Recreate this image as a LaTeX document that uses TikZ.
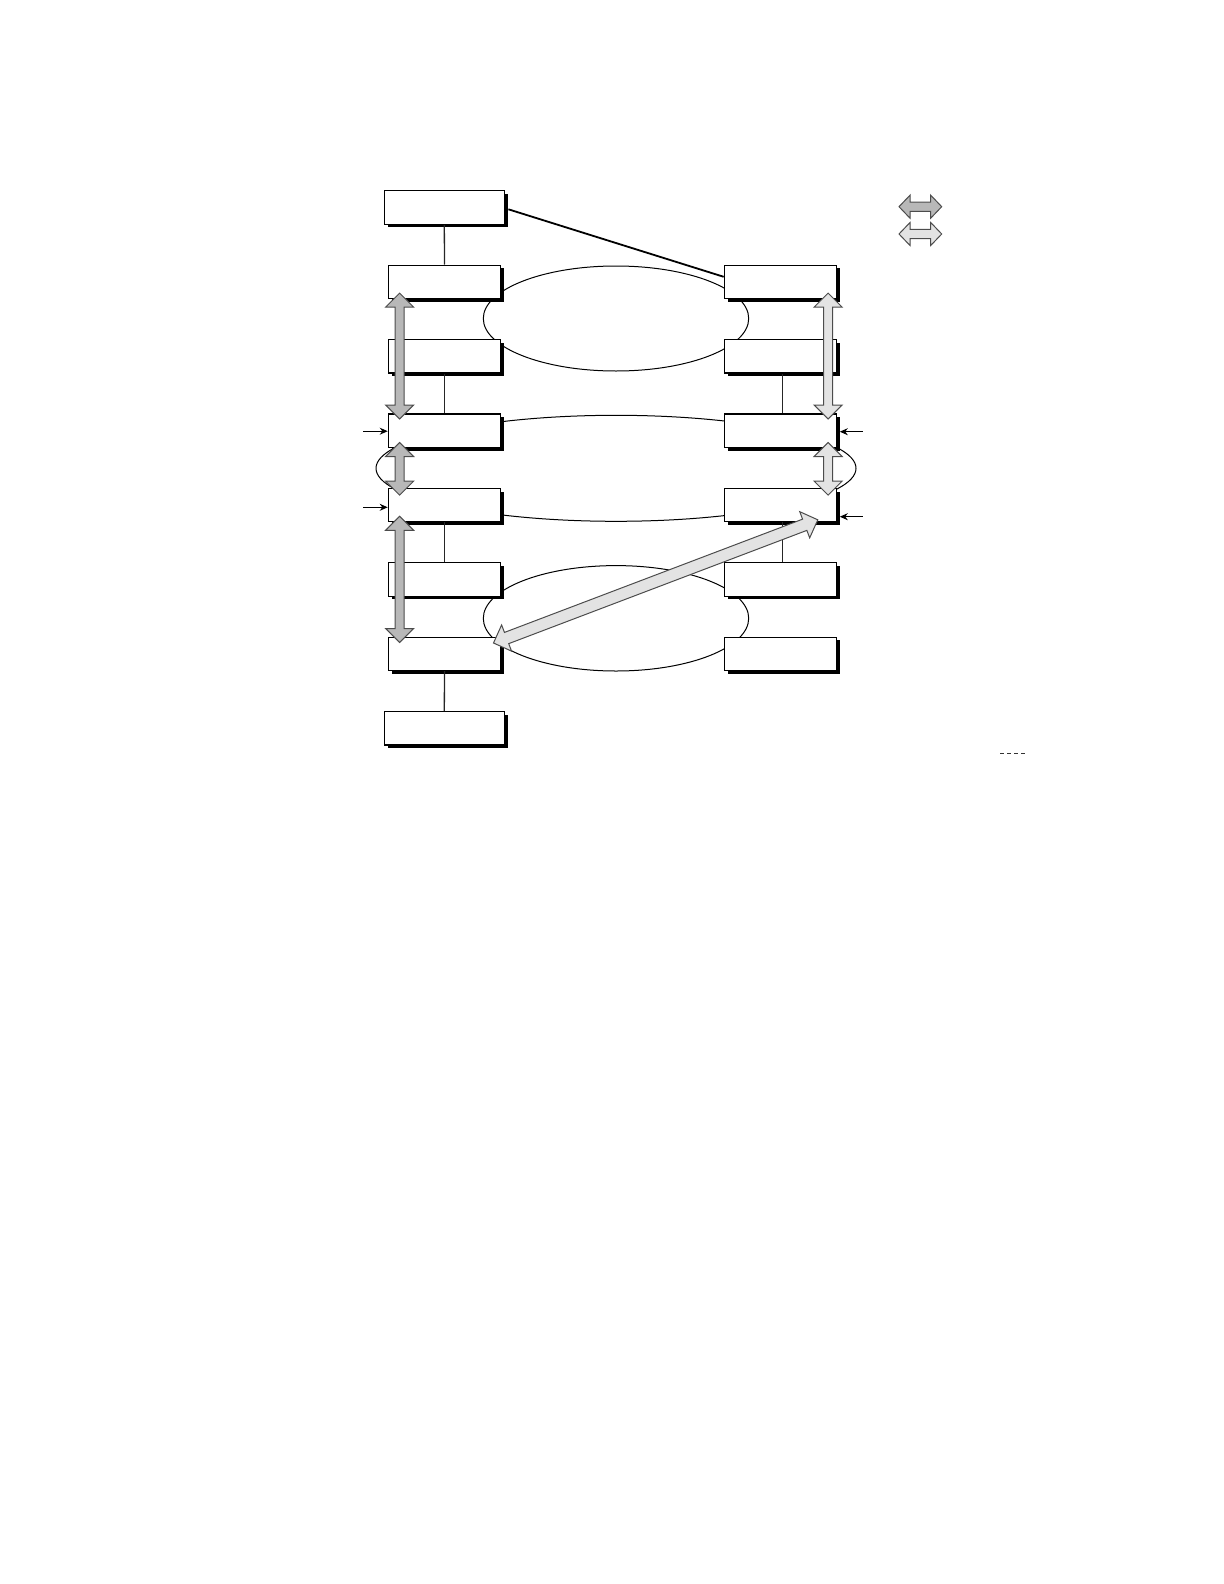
\documentclass[tikz,border=0pt]{standalone}
\usetikzlibrary{calc,shadows,arrows.meta}
\definecolor{darkfill}{gray}{0.72}
\definecolor{lightfill}{gray}{0.89}
\definecolor{arrline}{gray}{0.3}
\tikzset{
  box/.style={draw=black, line width=0.6pt, fill=white, minimum width=56.2pt,
    minimum height=16.7pt, inner sep=0pt,
    drop shadow={shadow xshift=1.6pt, shadow yshift=-1.6pt, fill=black, opacity=1}},
  widebox/.style={box, minimum width=60pt},
  link/.style={draw=black!85, line width=0.65pt},
  slant/.style={draw=black, line width=0.9pt},
  ring/.style={draw=black, line width=0.5pt},
  fatarrow/.style={draw=arrline, line width=0.5pt, line join=miter},
  feed/.style={draw=black, line width=0.5pt, -{Stealth[length=4pt,width=3.5pt]}},
  dashmark/.style={draw=black!80, line width=0.45pt, dash pattern=on 2.2pt off 1.3pt},
}
\newcommand\fahl{7pt}
\newcommand\fahw{7pt}
\newcommand\fasw{2.25pt}
\newcommand\fatarr[3]{%
  \coordinate (fa1) at #2;
  \coordinate (fa2) at #3;
  \coordinate (fh1) at ($(fa1)!\fahl!(fa2)$);
  \coordinate (fh2) at ($(fa2)!\fahl!(fa1)$);
  \draw[fatarrow, fill=#1] (fa1)
    -- ($(fh1)!\fahw!90:(fa2)$) -- ($(fh1)!\fasw!90:(fa2)$)
    -- ($(fh2)!\fasw!-90:(fa1)$) -- ($(fh2)!\fahw!-90:(fa1)$)
    -- (fa2)
    -- ($(fh2)!\fahw!90:(fa1)$) -- ($(fh2)!\fasw!90:(fa1)$)
    -- ($(fh1)!\fasw!-90:(fa2)$) -- ($(fh1)!\fahw!-90:(fa2)$)
    -- cycle;}
\begin{document}
\begin{tikzpicture}[x=0.5pt,y=-0.5pt]
\useasboundingbox (0,0) rectangle (1224,1584);

% rings behind the boxes
\draw[ring] (616,318.5) ellipse [x radius=66.35pt, y radius=26.25pt];
\draw[ring] (616,468.3) ellipse [x radius=120pt, y radius=26.5pt];
\draw[ring] (616,618.3) ellipse [x radius=66.35pt, y radius=26.35pt];

% boxes
\node[widebox] (B0) at (444.3,207.5) {};
\node[box] (L1) at (444.5,281.8) {};
\node[box] (L2) at (444.5,356.2) {};
\node[box] (L3) at (444.5,430.6) {};
\node[box] (L4) at (444.5,505.0) {};
\node[box] (L5) at (444.5,579.4) {};
\node[box] (L6) at (444.5,653.8) {};
\node[widebox] (B7) at (444.3,728.3) {};
\node[box] (R1) at (780.5,281.8) {};
\node[box] (R2) at (780.5,356.2) {};
\node[box] (R3) at (780.5,430.6) {};
\node[box] (R4) at (780.5,505.0) {};
\node[box] (R5) at (780.5,579.4) {};
\node[box] (R6) at (780.5,653.8) {};

% links
\draw[slant] ($(B0.east)+(3.5,1.8)$) -- ($(R1.west)+(0,-5)$);
\draw[link] (B0.south) -- (L1.north);
\draw[link] (L2.south) -- (L3.north);
\draw[link] (L4.south) -- (L5.north);
\draw[link] (L6.south) -- (B7.north);
\draw[link] ([xshift=1.1pt]R2.south) -- ([xshift=1.1pt]R3.north);
\draw[link] ([xshift=1.1pt]R4.south) -- ([xshift=1.1pt]R5.north);

% feed arrows
\coordinate (f1) at (363,431.2);
\coordinate (f2) at (363,507.3);
\coordinate (f3) at (862.7,431.7);
\coordinate (f4) at (862.7,516.7);
\draw[feed] (f1) -- (f1 -| L3.west);
\draw[feed] (f2) -- (f2 -| L4.west);
\draw[feed] (f3) -- ($(f3 -| R3.east)+(2.5,0)$);
\draw[feed] (f4) -- ($(f4 -| R4.east)+(2.5,0)$);

% fat double arrows
\fatarr{darkfill}{($(L1.south west)+(11.9,-6)$)}{($(L3.north west)+(11.9,5.7)$)}
\fatarr{darkfill}{($(L3.south west)+(11.9,-5.4)$)}{($(L4.north west)+(11.9,7.4)$)}
\fatarr{darkfill}{($(L4.south west)+(11.9,-6)$)}{($(L6.north west)+(11.9,6)$)}
\fatarr{lightfill}{($(R1.south east)+(-9.2,-6)$)}{($(R3.north east)+(-9.2,5.7)$)}
\fatarr{lightfill}{($(R3.south east)+(-9.2,-5.4)$)}{($(R4.north east)+(-9.2,7.4)$)}
\begingroup
\renewcommand\fasw{3pt}
\fatarr{lightfill}{($(L6.north east)+(-7.8,6.5)$)}{($(R4.south east)+(-19.5,-2.5)$)}
\endgroup

% legend
\coordinate (ld1) at (899,206.7);
\coordinate (ld2) at (941.7,206.7);
\coordinate (ll1) at (899,234);
\coordinate (ll2) at (941.7,234);
\begingroup
\renewcommand\fahl{5.5pt}
\renewcommand\fahw{5.75pt}
\renewcommand\fasw{2.3pt}
\fatarr{darkfill}{(ld1)}{(ld2)}
\fatarr{lightfill}{(ll1)}{(ll2)}
\endgroup

% dashes
\coordinate (d1) at (1000,753);
\coordinate (d2) at (1026,753);
\draw[dashmark] (d1) -- (d2);
\end{tikzpicture}
\end{document}
